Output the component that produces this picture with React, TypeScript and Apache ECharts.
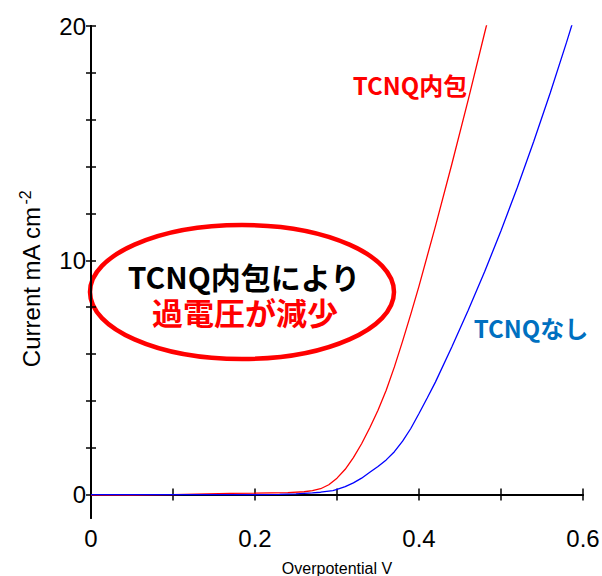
import React, { useEffect, useRef } from "react";
import * as echarts from "echarts";

// Series data
const redX = [0, 0.05, 0.1, 0.17, 0.2, 0.24, 0.26, 0.27, 0.28, 0.29, 0.3, 0.31, 0.32, 0.33, 0.34, 0.35, 0.36, 0.37, 0.38, 0.39, 0.4, 0.42, 0.44, 0.46, 0.48, 0.49];
const redY = [-0.02, -0.02, 0.0, 0.05, 0.06, 0.08, 0.12, 0.17, 0.25, 0.42, 0.7, 1.08, 1.58, 2.17, 2.85, 3.6, 4.45, 5.45, 6.55, 7.7, 8.9, 11.45, 14.1, 16.85, 19.7, 21.1];
const blueX = [0, 0.1, 0.2, 0.23, 0.25, 0.27, 0.28, 0.295, 0.3, 0.31, 0.32, 0.33, 0.34, 0.35, 0.36, 0.37, 0.38, 0.39, 0.4, 0.41, 0.42, 0.44, 0.46, 0.48, 0.5, 0.52, 0.54, 0.56, 0.58, 0.6];
const blueY = [0, 0, 0, 0.01, 0.03, 0.07, 0.1, 0.17, 0.22, 0.34, 0.5, 0.7, 0.95, 1.2, 1.48, 1.83, 2.28, 2.82, 3.46, 4.12, 4.8, 6.3, 7.87, 9.51, 11.26, 13.12, 15.08, 17.14, 19.31, 21.58];

const xLabelValues = [0, 0.2, 0.4, 0.6];
const yTickValues = [0, 2, 4, 6, 8, 10, 12, 14, 16, 18, 20];
const yLabelValues = [0, 10, 20];

const xName = "Overpotential V";
const yNameMain = "Current mA cm";
const yNameSup = "-2";
const redLabel = "TCNQ内包";
const blueLabel = "TCNQなし";
const noteLine1 = "TCNQ内包により";
const noteLine2 = "過電圧が減少";

const LATIN = "'Liberation Sans', Arial, sans-serif";
const CJK = "'Noto Sans CJK JP', 'Liberation Sans', sans-serif";

export default function App() {
  const ref = useRef<HTMLDivElement>(null);
  useEffect(() => {
    if (!ref.current) return;
    const chart = echarts.init(ref.current, undefined, { renderer: "svg" });
    const axisLine = { show: true, lineStyle: { color: "#000", width: 2 } };
    const xAxisCommon = {
      type: "value" as const,
      min: 0,
      max: 0.6,
      interval: 0.1,
      splitLine: { show: false },
      axisLine,
      axisTick: { show: true, inside: true, length: 6, lineStyle: { color: "#000", width: 1.5 } },
    };
    const yAxisCommon = {
      type: "value" as const,
      min: -1,
      max: 20,
      splitLine: { show: false },
      axisLine,
      axisTick: { show: true, inside: true, length: 5, customValues: yTickValues, lineStyle: { color: "#000", width: 1.5 } },
    };
    chart.setOption({
      animation: false,
      backgroundColor: "#fff",
      grid: { left: 91, right: 19, top: 26, bottom: 58, containLabel: false, outerBoundsMode: "none" },
      xAxis: [
        {
          ...xAxisCommon,
          position: "bottom",
          axisLabel: {
            show: true,
            customValues: xLabelValues,
            formatter: (v: number) => String(Math.round(v * 10) / 10),
            fontSize: 24,
            color: "#000",
            fontFamily: LATIN,
            margin: 8,
          },
          name: xName,
          nameLocation: "middle",
          nameGap: 42,
          nameTextStyle: { fontSize: 16, color: "#000", fontFamily: LATIN },
        },
        {
          ...xAxisCommon,
          position: "top",
          axisLabel: { show: false },
        },
      ],
      yAxis: [
        {
          ...yAxisCommon,
          position: "left",
          axisLabel: {
            show: true,
            customValues: yLabelValues,
            fontSize: 24,
            color: "#000",
            fontFamily: LATIN,
            margin: 5,
          },
        },
        {
          ...yAxisCommon,
          position: "right",
          axisLabel: { show: false },
        },
      ],
      series: [
        {
          type: "line",
          xAxisIndex: 0,
          yAxisIndex: 0,
          data: redX.map((x, i) => [x, redY[i]]),
          showSymbol: false,
          smooth: false,
          clip: true,
          lineStyle: { color: "#FF0000", width: 1.3 },
        },
        {
          type: "line",
          xAxisIndex: 0,
          yAxisIndex: 0,
          data: blueX.map((x, i) => [x, blueY[i]]),
          showSymbol: false,
          smooth: false,
          clip: true,
          lineStyle: { color: "#0000FF", width: 1.3 },
        },
      ],
      graphic: [
        {
          type: "text",
          x: 31,
          y: 279,
          rotation: Math.PI / 2,
          style: {
            text: `${yNameMain}{sup|${yNameSup}}`,
            fontSize: 24,
            fontFamily: LATIN,
            fill: "#000",
            align: "center",
            verticalAlign: "middle",
            lineHeight: 28,
            rich: {
              sup: { fontSize: 16, fontFamily: LATIN, fill: "#000", verticalAlign: "top", lineHeight: 16, padding: [0, 0, 12, 2] },
            },
          },
        },
        {
          type: "text",
          x: 410,
          y: 84,
          style: { text: redLabel, fontSize: 24, fontWeight: "bold", fontFamily: CJK, fill: "#FF0000", align: "center", verticalAlign: "middle" },
        },
        {
          type: "text",
          x: 531,
          y: 327,
          style: { text: blueLabel, fontSize: 24, fontWeight: "bold", fontFamily: CJK, fill: "#0070C0", align: "center", verticalAlign: "middle" },
        },
        {
          type: "ellipse",
          shape: { cx: 242, cy: 292, rx: 152, ry: 67 },
          style: { fill: "rgba(0,0,0,0)", stroke: "#FF0000", lineWidth: 4.5 },
        },
        {
          type: "text",
          x: 244,
          y: 276,
          style: { text: noteLine1, fontSize: 30, lineHeight: 28, fontWeight: "bold", fontFamily: CJK, fill: "#000", align: "center", verticalAlign: "middle" },
        },
        {
          type: "text",
          x: 245,
          y: 311,
          style: { text: noteLine2, fontSize: 31, lineHeight: 28, fontWeight: "bold", fontFamily: CJK, fill: "#FF0000", align: "center", verticalAlign: "middle" },
        },
      ],
    });
    return () => chart.dispose();
  }, []);
  return <div ref={ref} style={{ position: "absolute", left: 0, top: 0, width: 602, height: 576 }} />;
}
